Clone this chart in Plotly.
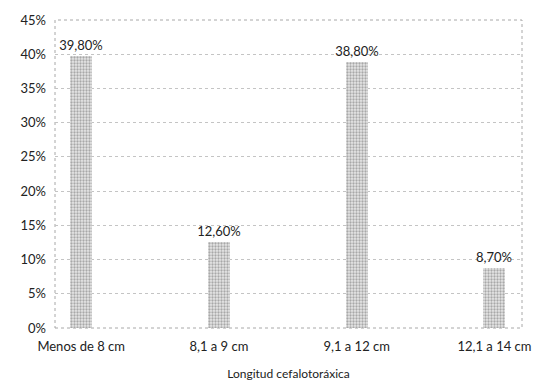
import plotly.graph_objects as go

# Distribución de la longitud cefalotoráxica
categorias = ["Menos de 8 cm", "8,1 a 9 cm", "9,1 a 12 cm", "12,1 a 14 cm"]
porcentajes = [39.8, 12.6, 38.8, 8.7]
ticks_y = [0, 5, 10, 15, 20, 25, 30, 35, 40, 45]
etiquetas_y = [f"{t}%" for t in ticks_y]

textos = [f"{v:.2f}".replace(".", ",") + "%" for v in porcentajes]

fuente = "Lato, Open Sans, sans-serif"

fig = go.Figure(
    go.Bar(
        x=list(range(len(categorias))),
        y=porcentajes,
        width=0.16,
        text=textos,
        textposition="outside",
        constraintext="none",
        cliponaxis=False,
        textfont=dict(size=13, color="#222", family=fuente),
        marker=dict(
            color="#d8d8d8",
            line=dict(width=0),
            pattern=dict(shape=".", size=3, solidity=0.45,
                         fgcolor="#6a6a6a", bgcolor="#e6e6e6"),
        ),
    )
)

fig.update_layout(
    width=540,
    height=384,
    margin=dict(l=55, r=18, t=20, b=56),
    paper_bgcolor="white",
    plot_bgcolor="white",
    showlegend=False,
    font=dict(family=fuente, color="#222"),
    xaxis=dict(
        range=[-0.19, 3.2],
        automargin=False,
        tickmode="array",
        tickvals=list(range(len(categorias))),
        ticktext=categorias,
        tickfont=dict(size=13),
        ticklabelstandoff=9,
        showgrid=False,
        zeroline=False,
        ticks="",
        title=dict(text="Longitud cefalotoráxica", font=dict(size=12), standoff=16),
    ),
    yaxis=dict(
        range=[0, 45],
        automargin=False,
        tickmode="array",
        tickvals=ticks_y,
        ticktext=etiquetas_y,
        tickfont=dict(size=13),
        ticklabelstandoff=8,
        showgrid=True,
        gridcolor="#c4c4c4",
        griddash="dot",
        gridwidth=1,
        zeroline=False,
        ticks="",
        ticklen=0,
    ),
    shapes=[
        dict(type="rect", xref="paper", yref="paper", x0=0, x1=1, y0=0, y1=1,
             line=dict(color="#a8a8a8", width=1, dash="dot"), layer="below"),
    ],
    bargap=0,
)

fig.write_html("out.html")
